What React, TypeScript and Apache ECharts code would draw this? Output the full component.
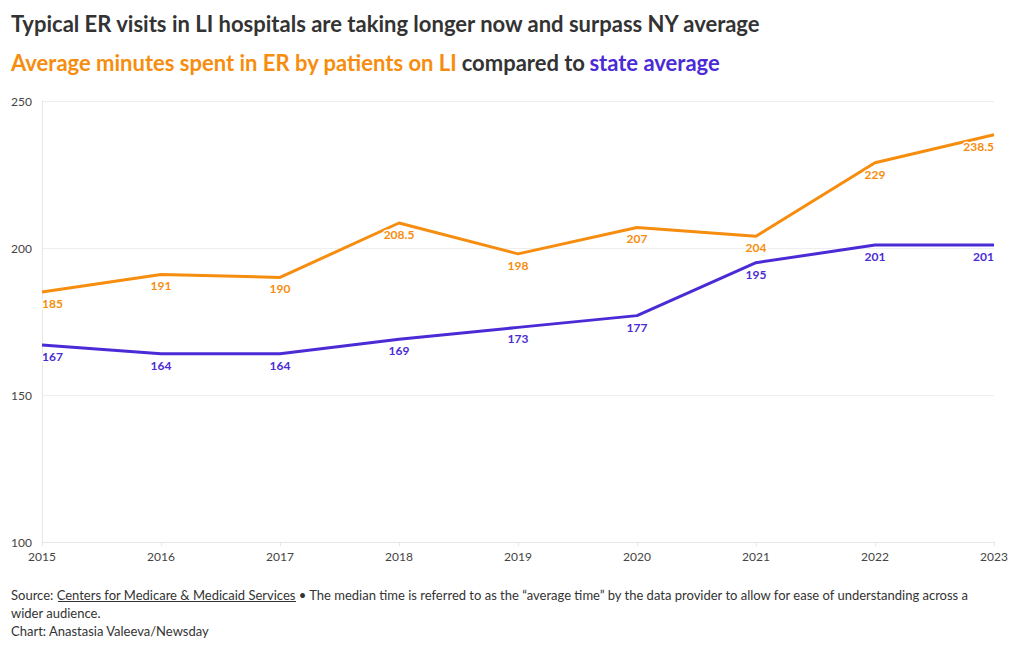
import React, { useEffect, useRef } from "react";
import * as echarts from "echarts";

const years = ["2015", "2016", "2017", "2018", "2019", "2020", "2021", "2022", "2023"];
const liValues = [185, 191, 190, 208.5, 198, 207, 204, 229, 238.5];
const stateValues = [167, 164, 164, 169, 173, 177, 195, 201, 201];
const yTicks = { min: 100, max: 250, interval: 50 };

const ORANGE = "#f68d0e";
const PURPLE = "#4b2bd6";
const DARK = "#333333";
const FONT = "Lato, 'Noto Sans', sans-serif";

function labelFor(color: string) {
  return {
    show: true,
    position: "bottom",
    distance: 5,
    color,
    opacity: 1,
    fontWeight: "bold",
    fontSize: 12,
    fontFamily: FONT,
    textBorderColor: "#ffffff",
    textBorderWidth: 3,
    formatter: (p: any) => String(p.value),
  };
}

function buildData(values: number[]) {
  const n = values.length;
  return values.map((v, i) => ({
    value: v,
    label: i === 0 ? { align: "left", offset: [-3, 0] } : i === n - 1 ? { align: "right", offset: [3, 0] } : {},
  }));
}

export default function App() {
  const ref = useRef<HTMLDivElement>(null);
  useEffect(() => {
    if (!ref.current) return;
    const chart = echarts.init(ref.current, null, { renderer: "svg" });
    chart.setOption({
      animation: false,
      backgroundColor: "#ffffff",
      textStyle: { fontFamily: FONT },
      title: [
        {
          text: "Typical ER visits in LI hospitals are taking longer now and surpass NY average",
          left: 11,
          top: 12,
          padding: 0,
          textStyle: { fontSize: 22, fontWeight: "bold", color: DARK, fontFamily: FONT },
        },
        {
          text: "{o|Average minutes spent in ER by patients on LI} {d|compared to} {p|state average}",
          left: 11,
          top: 51,
          padding: 0,
          textStyle: {
            fontFamily: FONT,
            rich: {
              o: { fontSize: 22, fontWeight: "bold", color: ORANGE, fontFamily: FONT },
              d: { fontSize: 22, fontWeight: "bold", color: DARK, fontFamily: FONT },
              p: { fontSize: 22, fontWeight: "bold", color: PURPLE, fontFamily: FONT },
            },
          },
        },
      ],
      grid: { left: 42, right: 26, top: 101, bottom: 108, containLabel: false },
      xAxis: {
        type: "category",
        data: years,
        boundaryGap: false,
        axisLine: { show: true, lineStyle: { color: "#e6e6e6" } },
        axisTick: { show: true, length: 4, lineStyle: { color: "#e6e6e6" } },
        axisLabel: { color: "#444", fontSize: 12, margin: 8, fontFamily: FONT },
        splitLine: { show: false },
      },
      yAxis: {
        type: "value",
        min: yTicks.min,
        max: yTicks.max,
        interval: yTicks.interval,
        axisLine: { show: true, lineStyle: { color: "#e6e6e6" } },
        axisTick: { show: false },
        axisLabel: { color: "#444", fontSize: 12, margin: 10, fontFamily: FONT },
        splitLine: { show: true, lineStyle: { color: "#eeeeee" } },
      },
      series: [
        {
          name: "LI",
          type: "line",
          data: buildData(liValues),
          symbol: "circle",
          symbolSize: 1,
          showSymbol: true,
          lineStyle: { color: ORANGE, width: 3 },
          itemStyle: { color: "rgba(0,0,0,0)", borderWidth: 0 },
          label: labelFor(ORANGE),
          labelLayout: { hideOverlap: false },
          z: 3,
        },
        {
          name: "State",
          type: "line",
          data: buildData(stateValues),
          symbol: "circle",
          symbolSize: 1,
          showSymbol: true,
          lineStyle: { color: PURPLE, width: 3 },
          itemStyle: { color: "rgba(0,0,0,0)", borderWidth: 0 },
          label: labelFor(PURPLE),
          labelLayout: { hideOverlap: false },
          z: 2,
        },
      ],
      graphic: [
        {
          type: "text",
          left: 11,
          top: 588,
          style: {
            text: "Source: Centers for Medicare & Medicaid Services • The median time is referred to as the “average time” by the data provider to allow for ease of understanding across a",
            fill: DARK,
            font: `13px ${FONT}`,
          },
        },
        {
          type: "line",
          shape: { x1: 58, y1: 601.5, x2: 296, y2: 601.5 },
          style: { stroke: DARK, lineWidth: 1 },
        },
        {
          type: "text",
          left: 11,
          top: 606,
          style: { text: "wider audience.", fill: DARK, font: `13px ${FONT}` },
        },
        {
          type: "text",
          left: 11,
          top: 624,
          style: { text: "Chart: Anastasia Valeeva/Newsday", fill: DARK, font: `13px ${FONT}` },
        },
      ],
    });
    return () => chart.dispose();
  }, []);
  return <div ref={ref} style={{ width: 1020, height: 650, margin: -8 }} />;
}
